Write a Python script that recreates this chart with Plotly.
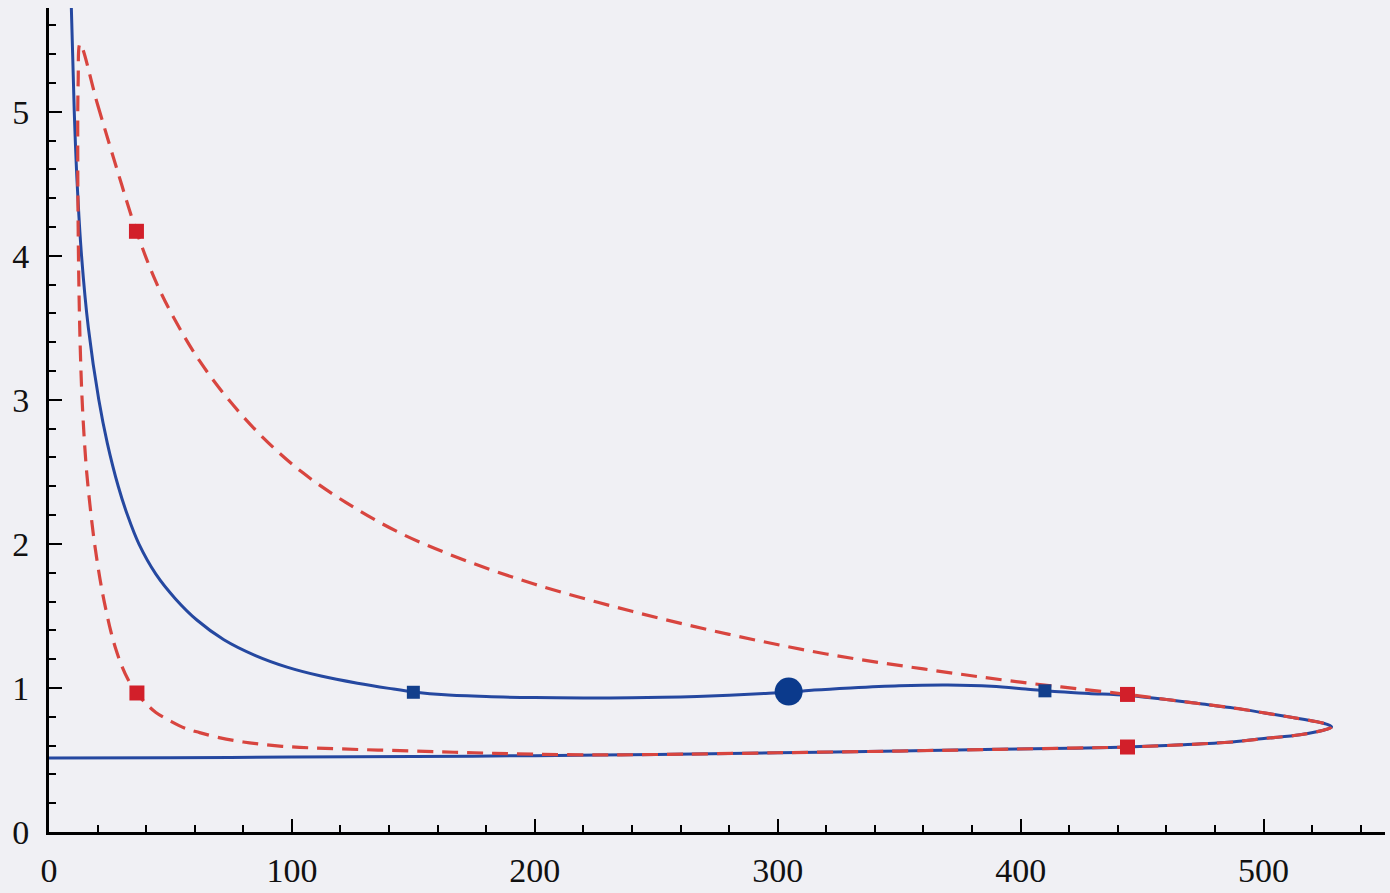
import plotly.graph_objects as go

# Solid blue curve: descends from the top-left, runs along y~1, turns at the tip and returns along y~0.52
blue_x = [9.2, 10.4, 11.6, 13.4, 16.2, 20.5, 24.0, 28.5, 32.3, 37.0, 44.0, 52.0, 61.0, 72.0,
          85.0, 98.0, 112.0, 127.0, 140.0, 151.0, 163.0, 180.0, 200.0, 220.0, 240.0, 260.0,
          280.0, 295.0, 304.5, 315.0, 330.0, 350.0, 370.0, 388.0, 402.0, 414.0, 428.0, 444.0,
          460.0, 474.0, 488.0, 501.0, 512.0, 522.0, 526.5, 528.0,
          526.0, 515.0, 501.0, 487.0, 466.0, 444.0, 420.0, 391.0, 350.0, 300.0, 250.0,
          200.0, 150.0, 100.0, 50.0, 0.0]
blue_y = [5.72, 5.0, 4.5, 4.0, 3.5, 3.0, 2.7, 2.4, 2.2, 2.0, 1.79, 1.62, 1.47, 1.335,
          1.225, 1.145, 1.083, 1.033, 0.997, 0.97, 0.952, 0.94, 0.933, 0.93, 0.932, 0.938,
          0.95, 0.962, 0.97, 0.985, 1.0, 1.015, 1.02, 1.012, 0.993, 0.975, 0.962, 0.948,
          0.92, 0.89, 0.86, 0.825, 0.795, 0.765, 0.745, 0.73,
          0.713, 0.675, 0.65, 0.625, 0.605, 0.59, 0.582, 0.574, 0.562, 0.55, 0.538,
          0.53, 0.524, 0.52, 0.516, 0.514]

# Dashed red curve: cusp at the top-left, upper branch down to the shared tip, lower branch back up
red_x = [12.8, 20.0, 28.0, 36.0, 44.0, 52.0, 62.0, 74.0, 88.0, 104.0, 122.0, 144.0, 170.0,
         200.0, 240.0, 280.0, 320.0, 360.0, 400.0, 444.0,
         460.0, 474.0, 488.0, 501.0, 512.0, 522.0, 526.5, 528.0, 526.0, 515.0, 501.0, 487.0,
         466.0, 444.0, 420.0, 391.0, 350.0, 300.0, 250.0, 227.0, 200.0, 175.0, 150.0, 120.0,
         96.0, 80.0, 70.0, 62.0, 56.0, 50.0, 44.0, 40.0, 36.0, 32.5, 29.8, 27.5, 25.5, 23.6,
         21.8, 20.0, 18.3, 16.8, 15.5, 14.4, 13.5, 12.8, 12.3, 12.0, 11.85, 12.0, 12.8]
red_y = [5.47, 5.05, 4.6, 4.17, 3.82, 3.55, 3.27, 3.0, 2.74, 2.5, 2.29, 2.08, 1.894,
         1.72, 1.532, 1.372, 1.236, 1.132, 1.04, 0.955,
         0.92, 0.89, 0.86, 0.825, 0.795, 0.765, 0.745, 0.73, 0.713, 0.675, 0.65, 0.625,
         0.605, 0.59, 0.582, 0.574, 0.562, 0.55, 0.538, 0.535, 0.54, 0.55, 0.562, 0.577,
         0.595, 0.625, 0.655, 0.69, 0.72, 0.77, 0.83, 0.89, 0.965, 1.06, 1.16, 1.27, 1.39, 1.53,
         1.68, 1.86, 2.06, 2.28, 2.5, 2.76, 3.05, 3.4, 3.8, 4.2, 4.6, 5.2, 5.47]

# Highlighted points
red_pts_x = [36.0, 36.2, 444.0, 444.0]
red_pts_y = [4.17, 0.965, 0.955, 0.59]
blue_pts_x = [150.0, 410.0]
blue_pts_y = [0.97, 0.98]
big_pt_x = [304.5]
big_pt_y = [0.975]

x_ticks = [0, 100, 200, 300, 400, 500]
y_ticks = [0, 1, 2, 3, 4, 5]

fig = go.Figure()
fig.add_trace(go.Scatter(x=blue_x, y=blue_y, mode="lines",
                         line=dict(color="#2548a0", width=3, shape="spline", smoothing=1.0)))
fig.add_trace(go.Scatter(x=red_x, y=red_y, mode="lines",
                         line=dict(color="#d8453f", width=3.2, dash="16px,9px",
                                   shape="spline", smoothing=1.0)))
fig.add_trace(go.Scatter(x=red_pts_x, y=red_pts_y, mode="markers",
                         marker=dict(symbol="square", size=15, color="#d21f2a")))
fig.add_trace(go.Scatter(x=blue_pts_x, y=blue_pts_y, mode="markers",
                         marker=dict(symbol="square", size=13, color="#123f8c")))
fig.add_trace(go.Scatter(x=big_pt_x, y=big_pt_y, mode="markers",
                         marker=dict(symbol="circle", size=28, color="#0b3a8c")))

axis_common = dict(showline=True, linecolor="black", linewidth=3, ticks="inside",
                   tickcolor="black", tickwidth=2, ticklen=13, showgrid=False,
                   zeroline=False, mirror=False,
                   tickfont=dict(family="Liberation Serif", size=34, color="#111"))

fig.update_xaxes(range=[0, 550], tickvals=x_ticks, ticklabelstandoff=6,
                 minor=dict(ticks="inside", ticklen=7, tickwidth=2, tickcolor="black", dtick=20),
                 **axis_common)
fig.update_yaxes(range=[0, 5.72], tickvals=y_ticks, ticklabelstandoff=10,
                 minor=dict(ticks="inside", ticklen=7, tickwidth=2, tickcolor="black", dtick=0.2),
                 **axis_common)

fig.update_layout(width=1390, height=893, showlegend=False,
                  margin=dict(l=49, r=5, t=8, b=61),
                  paper_bgcolor="#f0f0f4", plot_bgcolor="#f0f0f4")

fig.write_html("out.html")
